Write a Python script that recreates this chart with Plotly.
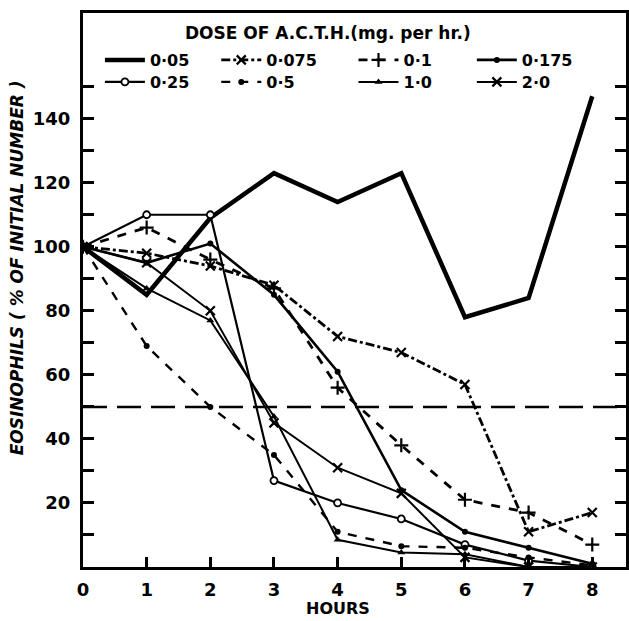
import plotly.graph_objects as go

# ---- data ----
hours = [0, 1, 2, 3, 4, 5, 6, 7, 8]
dose_labels = ["0·05", "0·075", "0·1", "0·175", "0·25", "0·5", "1·0", "2·0"]
eos_0_05 = [100, 85, 109, 123, 114, 123, 78, 84, 147]
eos_0_075 = [100, 98, 94, 88, 72, 67, 57, 11, 17]
eos_0_1 = [100, 106, 96, 87, 56, 38, 21, 17, 7]
eos_0_175 = [100, 95, 101, 85, 61, 24, 11, 6, 1]
eos_0_25 = [100, 110, 110, 27, 20, 15, 7, 2, 0]
eos_0_5 = [100, 69, 50, 35, 11, 6.5, 6, 3, 0.5]
eos_1_0 = [100, 87, 77, 47, 8.5, 4.5, 4, 0, 0]
eos_2_0 = [100, 95, 80, 45, 31, 23, 3, 0, 0]
y_tick_vals = [10, 20, 30, 40, 50, 60, 70, 80, 90, 100, 110, 120, 130, 140, 150]
y_tick_text = ["", "20", "", "40", "", "60", "", "80", "", "100", "", "120", "", "140", ""]
half_line = 50

series = [eos_0_05, eos_0_075, eos_0_1, eos_0_175, eos_0_25, eos_0_5, eos_1_0, eos_2_0]

# ---- styles ----
FONT = "DejaVu Sans"
W, H = 629, 621
ML, MR, MT, MB = 83, 0, 13, 54
PW, PH = W - ML - MR, H - MT - MB

styles = [
    dict(mode="lines", line=dict(width=4.5, dash="solid"), marker=None),
    dict(mode="lines+markers", line=dict(width=2.8, dash="dashdot"),
         marker=dict(symbol="x-thin-open", size=9, line=dict(width=2.2, color="black"))),
    dict(mode="lines+markers", line=dict(width=2.8, dash="dash"),
         marker=dict(symbol="cross-thin-open", size=10, line=dict(width=2.2, color="black"))),
    dict(mode="lines+markers", line=dict(width=2.6, dash="solid"),
         marker=dict(symbol="circle", size=6, color="black")),
    dict(mode="lines+markers", line=dict(width=2.2, dash="solid"),
         marker=dict(symbol="circle", size=7, color="white", line=dict(width=1.8, color="black"))),
    dict(mode="lines+markers", line=dict(width=2.4, dash="dash"),
         marker=dict(symbol="circle", size=6, color="black")),
    dict(mode="lines+markers", line=dict(width=2.0, dash="solid"),
         marker=dict(symbol="triangle-up", size=7, color="black")),
    dict(mode="lines+markers", line=dict(width=2.0, dash="solid"),
         marker=dict(symbol="x-thin-open", size=9, line=dict(width=2.2, color="black"))),
]

# legend slot positions in pixels (left edge of entry, row centre)
legend_cols_px = [100, 217, 355, 474]
legend_rows_px = [60, 82]

fig = go.Figure()
legend_layout = {}
for i, (name, vals, st) in enumerate(zip(dose_labels, series, styles)):
    lname = "legend" if i == 0 else f"legend{i + 1}"
    kw = dict(x=hours, y=vals, name=name, mode=st["mode"],
              line=dict(color="black", **st["line"]), legend=lname)
    if st["marker"] is not None:
        kw["marker"] = st["marker"]
    fig.add_trace(go.Scatter(**kw))
    col, row = i % 4, i // 4
    legend_layout[lname] = dict(
        x=(legend_cols_px[col] - ML) / PW, xanchor="left",
        y=(H - MB - legend_rows_px[row]) / PH, yanchor="middle",
        orientation="h", itemwidth=40, bgcolor="rgba(0,0,0,0)", borderwidth=0,
        font=dict(family=FONT, size=16, weight="bold", color="black"),
    )

fig.add_hline(y=half_line, line=dict(color="black", width=2.5, dash="24px,10px"))

fig.update_layout(
    width=W, height=H,
    margin=dict(l=ML, r=MR, t=MT, b=MB),
    paper_bgcolor="white", plot_bgcolor="white",
    font=dict(family=FONT, color="black"),
    showlegend=True,
    xaxis=dict(
        range=[0, 8.53], tickvals=hours, ticktext=[str(h) for h in hours],
        ticks="inside", ticklen=10, tickwidth=2.5, tickcolor="black",
        showline=True, linewidth=3, linecolor="black", mirror=True,
        showgrid=False, zeroline=False, ticklabelstandoff=4,
        tickfont=dict(family=FONT, size=18, weight="bold", color="black"),
    ),
    yaxis=dict(
        range=[0, 173], tickvals=y_tick_vals, ticktext=y_tick_text,
        ticks="inside", ticklen=11, tickwidth=2.8, tickcolor="black",
        showline=True, linewidth=3, linecolor="black", mirror="ticks",
        showgrid=False, zeroline=False, ticklabelstandoff=6,
        tickfont=dict(family=FONT, size=18, weight="bold", color="black"),
    ),
    annotations=[
        dict(text="DOSE OF A.C.T.H.(mg. per hr.)", xref="paper", x=(329 - ML) / PW,
             yref="paper", y=(H - MB - 33) / PH, xanchor="center", yanchor="middle",
             showarrow=False, font=dict(family=FONT, size=17, weight="bold", color="black")),
        dict(text="HOURS", xref="x", x=4, yref="paper", y=(H - MB - 608) / PH,
             yanchor="middle", showarrow=False,
             font=dict(family=FONT, size=16, weight="bold", color="black")),
        dict(text="EOSINOPHILS ( % OF INITIAL NUMBER )", xref="paper", x=(17 - ML) / PW,
             yref="paper", y=(H - MB - 268) / PH, textangle=-90, showarrow=False,
             xanchor="center", yanchor="middle",
             font=dict(family=FONT, size=17, weight="bold", style="italic", color="black")),
    ],
    **legend_layout,
)

fig.write_html("out.html")
